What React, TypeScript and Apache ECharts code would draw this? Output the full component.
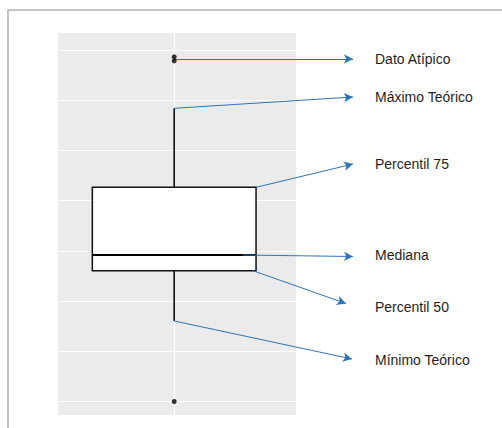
import React, { useEffect, useRef } from "react";
import * as echarts from "echarts";

// ---- data ----
const boxPosition = [1];
const minimoTeorico = [8.02];
const percentil25 = [13.03];
const mediana = [14.59];
const percentil75 = [21.33];
const maximoTeorico = [29.2];
const outlierValues = [34.33, 33.93, 0.0];
const gridValues = [0, 5, 10, 15, 20, 25, 30, 35];
const annotationLabels = [
  "Dato Atípico",
  "Máximo Teórico",
  "Percentil 75",
  "Mediana",
  "Percentil 50",
  "Mínimo Teórico",
];

const BOX_HALF = 0.375;
const ARROW = "#2E74B5";

export default function App() {
  const ref = useRef<HTMLDivElement>(null);

  useEffect(() => {
    document.body.style.margin = "0";
    const chart = echarts.init(ref.current!, null, { renderer: "svg" });

    const boxData = boxPosition.map((x, i) => [
      x,
      minimoTeorico[i],
      percentil25[i],
      mediana[i],
      percentil75[i],
      maximoTeorico[i],
    ]);
    const outlierData = outlierValues.map((v) => [boxPosition[0], v]);

    // annotation arrows: start anchored to data, end in page pixels
    const x0 = boxPosition[0];
    const arrowEnds = [
      { x: 353, y: 59 },
      { x: 353, y: 97 },
      { x: 353, y: 164 },
      { x: 353, y: 256.5 },
      { x: 346, y: 303.5 },
      { x: 352, y: 359 },
    ];
    const arrowStarts = [
      [x0, outlierValues[0] - 0.2],
      [x0, maximoTeorico[0]],
      [x0 + BOX_HALF, percentil75[0]],
      [x0 + 0.315, mediana[0]],
      [x0 + 0.36, percentil25[0]],
      [x0, minimoTeorico[0]],
    ];
    const labelY = [59, 96.5, 164, 255, 306.5, 360];

    const option: any = {
      animation: false,
      grid: {
        left: 58,
        top: 33,
        width: 238,
        height: 382,
        show: true,
        backgroundColor: "#EBEBEB",
        borderWidth: 0,
      },
      xAxis: {
        type: "value",
        min: 0.4677,
        max: 1.558,
        show: false,
        splitLine: { show: false },
      },
      yAxis: {
        type: "value",
        min: -1.345,
        max: 36.7,
        show: false,
        splitLine: { show: false },
      },
      graphic: [
        {
          type: "rect",
          shape: { x: 8, y: 10, width: 700, height: 700 },
          style: { fill: "none", stroke: "#C4C4C4", lineWidth: 2 },
          silent: true,
        },
        ...annotationLabels.map((t, i) => ({
          type: "text",
          x: 375,
          y: labelY[i],
          style: {
            text: t,
            fill: "#1E1E1E",
            font: "14px 'Liberation Sans', Arial, sans-serif",
            verticalAlign: "middle",
            align: "left",
          },
        })),
      ],
      series: [
        {
          type: "line",
          data: [],
          z: 1,
          clip: false,
          markLine: {
            z: 1,
            silent: true,
            symbol: ["none", "none"],
            label: { show: false },
            lineStyle: { color: "#FFFFFF", width: 1.2, type: "solid" },
            data: [
              ...gridValues.map((v) => ({ yAxis: v })),
              { xAxis: boxPosition[0] },
            ],
          },
        },
        {
          type: "custom",
          z: 3,
          data: boxData,
          encode: { x: 0, y: [1, 2, 3, 4, 5] },
          renderItem: (params: any, api: any) => {
            const x = api.value(0);
            const lo = api.coord([x - BOX_HALF, api.value(2)]);
            const hi = api.coord([x + BOX_HALF, api.value(4)]);
            const m0 = api.coord([x - BOX_HALF, api.value(3)]);
            const m1 = api.coord([x + BOX_HALF, api.value(3)]);
            const wMin = api.coord([x, api.value(1)]);
            const wMax = api.coord([x, api.value(5)]);
            const q1c = api.coord([x, api.value(2)]);
            const q3c = api.coord([x, api.value(4)]);
            return {
              type: "group",
              children: [
                {
                  type: "line",
                  shape: { x1: wMax[0], y1: wMax[1], x2: q3c[0], y2: q3c[1] },
                  style: { stroke: "#000", lineWidth: 1.5 },
                },
                {
                  type: "line",
                  shape: { x1: q1c[0], y1: q1c[1], x2: wMin[0], y2: wMin[1] },
                  style: { stroke: "#000", lineWidth: 1.5 },
                },
                {
                  type: "rect",
                  shape: {
                    x: lo[0],
                    y: hi[1],
                    width: hi[0] - lo[0],
                    height: lo[1] - hi[1],
                  },
                  style: { fill: "#FFFFFF", stroke: "#111", lineWidth: 1.5 },
                },
                {
                  type: "line",
                  shape: { x1: m0[0], y1: m0[1], x2: m1[0], y2: m1[1] },
                  style: { stroke: "#000", lineWidth: 2 },
                },
              ],
            };
          },
        },
        {
          type: "line",
          data: [],
          z: 4,
          clip: false,
          markLine: {
            z: 4,
            silent: true,
            symbol: ["none", "arrow"],
            symbolSize: [7, 9],
            label: { show: false },
            lineStyle: { color: ARROW, width: 1, type: "solid" },
            data: arrowStarts.map((s, i) => [
              { coord: s },
              { x: arrowEnds[i].x, y: arrowEnds[i].y },
            ]),
          },
        },
        {
          type: "scatter",
          z: 6,
          data: outlierData,
          symbol: "circle",
          symbolSize: 5,
          itemStyle: { color: "#000000" },
        },
      ],
    };
    chart.setOption(option);
    return () => chart.dispose();
  }, []);

  return <div ref={ref} style={{ width: 502, height: 428 }} />;
}
